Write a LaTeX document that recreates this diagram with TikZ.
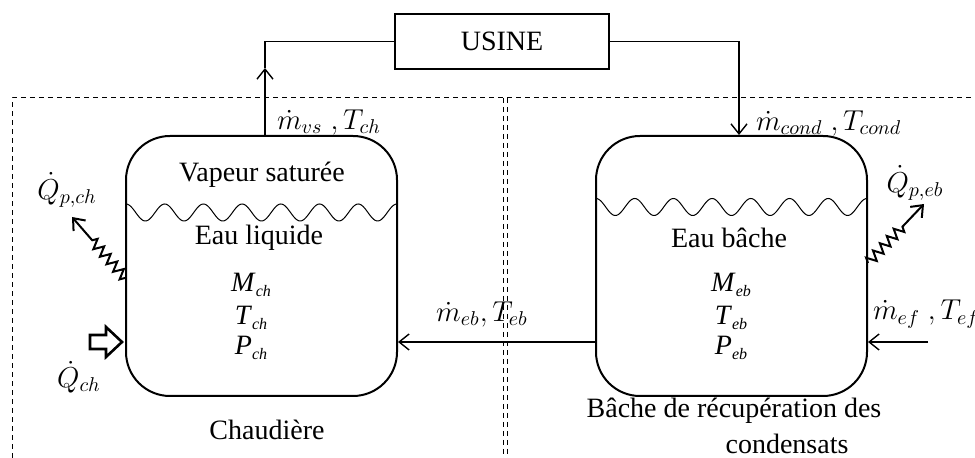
\documentclass[tikz,border=0pt]{standalone}
\usepackage{amsmath}
\usepackage{amssymb}
\usepackage{fontspec}
\setmainfont{Liberation Serif}
\usepackage{tikz}
\usetikzlibrary{arrows.meta}
\usetikzlibrary{decorations.pathmorphing}

\newcommand{\tvar}[2]{\textit{#1}\raisebox{-0.35ex}{\footnotesize\textit{#2}}}

\begin{document}
\begin{tikzpicture}[x=0.5pt,y=-0.5pt,
  font=\fontsize{14}{17}\selectfont,
  >={Straight Barb[length=5pt,width=8pt]},
  tank/.style={draw,line width=1pt,rounded corners=22pt,minimum width=135.5pt,minimum height=130pt,inner sep=0pt},
  boundary/.style={line width=0.5pt,dash pattern=on 2.5pt off 2pt},
  flow/.style={line width=0.7pt},
  heatloss/.style={->,line width=1pt,decorate,decoration={zigzag,segment length=5pt,amplitude=2.5pt,post length=15pt}}]
\useasboundingbox (0,0) rectangle (975,458);

%control volumes
\draw [boundary] (12,458) -- (12,98) -- (975,98) ;
\draw [boundary] (503,98) -- (503,458) ;
\draw [boundary] (507,98) -- (507,458) ;

%usine
\node [draw,line width=0.7pt,minimum width=107pt,minimum height=27.5pt,inner sep=0pt] (usine) at (502,41.5) {USINE};

%tanks
\node [tank] (chaud) at (261.5,266) {};
\node [tank] (bache) at (731.5,266) {};

%liquid surfaces
\draw [line width=0.5pt] plot [domain=0:7,samples=211,smooth] ({126+\x*38.71},{212.5-8.5*cos(\x*360)}) ;
\draw [line width=0.5pt] plot [domain=0:7,samples=211,smooth] ({596+\x*38.71},{207-8.5*cos(\x*360)}) ;

%texts in chaudiere
\node (vap) at (262,175) {Vapeur saturée};
\node (liq) at (259,238) {Eau liquide};
\node (mch) at (251,285) {\tvar{M}{ch}};
\node (tch) at (251,318) {\tvar{T}{ch}};
\node (pch) at (251,348) {\tvar{P}{ch}};
\node (nch) at (267,430) {Chaudière};

%texts in bache
\node (eb) at (729,238) {Eau bâche};
\node (meb) at (731,285) {\tvar{M}{eb}};
\node (teb) at (731,318) {\tvar{T}{eb}};
\node (peb) at (731,348) {\tvar{P}{eb}};
\node (neb) at (734,411) {Bâche de récupération des};
\node (neb2) at (787,444) {condensats};

%vapour to usine
\coordinate (vstip) at (265,68);
\draw [flow,->] ([xshift=1.75pt]chaud.north) -- (vstip) ;
\draw [flow] (vstip) |- (usine.west) ;
\node [anchor=west] (lvs) at (270,122) {$\dot{m}_{vs}\;,T_{ch}$};

%condensates back
\draw [flow,->] (usine.east) -| ([xshift=3.75pt]bache.north) ;
\node [anchor=west] (lcond) at (749,123) {$\dot{m}_{cond}\;,T_{cond}$};

%feed from bache
\draw [flow,->] ([yshift=-38pt]bache.west) -- ([yshift=-38pt]chaud.east) ;
\node (leb) at (482,314) {$\dot{m}_{eb},T_{eb}$};

%make-up water
\coordinate (efin) at (928,342);
\draw [flow,->] (efin) -- ([yshift=-38pt]bache.east) ;
\node [anchor=west] (lef) at (866,314) {$\dot{m}_{ef}\;,T_{ef}$};

%heat losses
\coordinate (qpch) at (72,217);
\coordinate (qpeb) at (924,204);
\draw [heatloss] ([yshift=-6pt]chaud.west) -- (qpch) ;
\draw [heatloss] ([yshift=1.5pt]bache.east) -- (qpeb) ;
\node (lqpch) at (67,190) {$\dot{Q}_{p,ch}$};
\node (lqpeb) at (915,183) {$\dot{Q}_{p,eb}$};

%heating
\draw [line width=1.3pt,line join=miter] (90,335) -- (106,335) -- (106,327) -- (122,342) -- (106,357) -- (106,349) -- (90,349) -- cycle ;
\node (lqch) at (79,377) {$\dot{Q}_{ch}$};

\end{tikzpicture}
\end{document}
